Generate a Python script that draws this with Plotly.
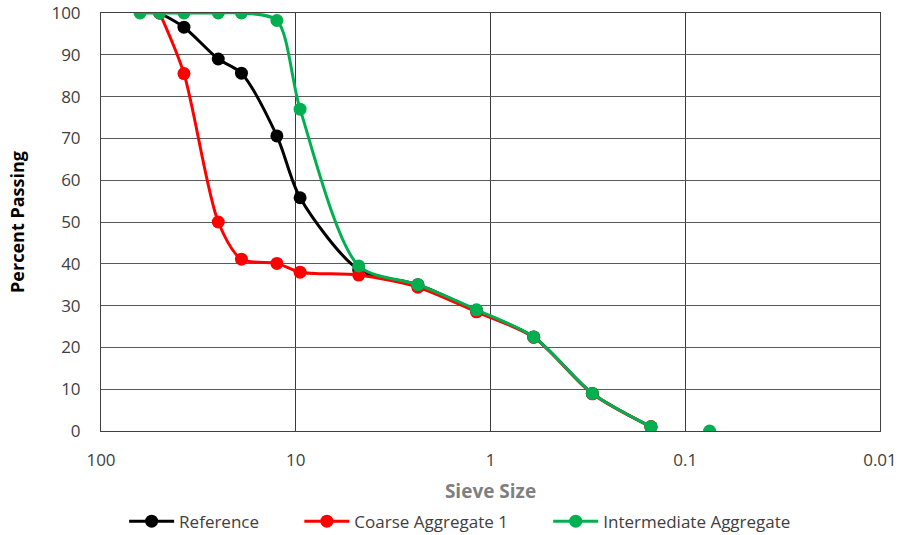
import plotly.graph_objects as go

ref_sizes = [50, 37.5, 25, 19, 12.5, 9.5, 4.75, 2.36, 1.18, 0.6, 0.3, 0.15]
ref_pass = [100, 96.6, 89, 85.6, 70.6, 55.8, 38.6, 35, 28.8, 22.5, 9, 1]

ca1_sizes = [50, 37.5, 25, 19, 12.5, 9.5, 4.75, 2.36, 1.18, 0.6, 0.3, 0.15]
ca1_pass = [100, 85.5, 50, 41.1, 40.1, 38, 37.3, 34.4, 28.5, 22.4, 8.9, 1]

ia_sizes = [63, 50, 37.5, 25, 19, 12.5, 9.5, 4.75, 2.36, 1.18, 0.6, 0.3, 0.15, 0.075]
ia_pass = [100, 100, 100, 100, 100, 98.2, 77, 39.5, 35, 29, 22.5, 9, 1, 0]
ia_break_before = 0.075  # last point plotted without a connecting line

x_ticks = [100, 10, 1, 0.1, 0.01]
x_tick_labels = ["100", "10", "1", "0.1", "0.01"]
y_ticks = list(range(0, 101, 10))

PAD = "\u00a0" * 8


def with_gap(xs, ys, brk):
    ox, oy = [], []
    for x, y in zip(xs, ys):
        if x == brk:
            ox.append(None)
            oy.append(None)
        ox.append(x)
        oy.append(y)
    return ox, oy


fig = go.Figure()
series = [
    ("Reference" + PAD, ref_sizes, ref_pass, "#000000"),
    ("Coarse Aggregate 1" + PAD, ca1_sizes, ca1_pass, "#ff0000"),
]
for name, xs, ys, col in series:
    fig.add_trace(go.Scatter(
        x=xs, y=ys, name=name, mode="lines+markers",
        line=dict(color=col, width=3, shape="spline", smoothing=0.8),
        marker=dict(color=col, size=13),
    ))

gx, gy = with_gap(ia_sizes, ia_pass, ia_break_before)
fig.add_trace(go.Scatter(
    x=gx, y=gy, name="Intermediate Aggregate", mode="lines+markers",
    connectgaps=False,
    line=dict(color="#00b050", width=3, shape="spline", smoothing=0.8),
    marker=dict(color="#00b050", size=13),
))

font_family = "Open Sans, Noto Sans, sans-serif"
fig.update_layout(
    width=899, height=535,
    margin=dict(l=101, r=19, t=13, b=104, autoexpand=False),
    paper_bgcolor="white", plot_bgcolor="white",
    font=dict(family=font_family, size=16, color="#404040"),
    showlegend=True,
    legend=dict(orientation="h", x=0.461, xanchor="center",
                yref="container", y=0.025, yanchor="middle",
                font=dict(size=17, color="#404040"), itemwidth=45,
                traceorder="normal", itemclick=False),
    xaxis=dict(
        type="log", range=[2, -2], tickvals=x_ticks, ticktext=x_tick_labels,
        showgrid=True, gridcolor="#3a3a3a", gridwidth=1,
        showline=True, linecolor="#404040", linewidth=1, mirror=True,
        ticks="", zeroline=False, ticklabelstandoff=14, automargin=False,
        title=dict(text="<b>Sieve Size</b>", font=dict(size=19, color="#7f7f7f"), standoff=20),
        tickfont=dict(size=17, color="#404040"),
    ),
    yaxis=dict(
        range=[0, 100], tickvals=y_ticks,
        showgrid=True, gridcolor="#5a5a5a", gridwidth=1,
        showline=True, linecolor="#404040", linewidth=1, mirror=True,
        ticks="", zeroline=False, ticklabelstandoff=16, automargin=False,
        title=dict(text="<b>Percent Passing</b>", font=dict(size=18, color="#000000"), standoff=22),
        tickfont=dict(size=17, color="#404040"),
    ),
)

fig.write_html("out.html")
